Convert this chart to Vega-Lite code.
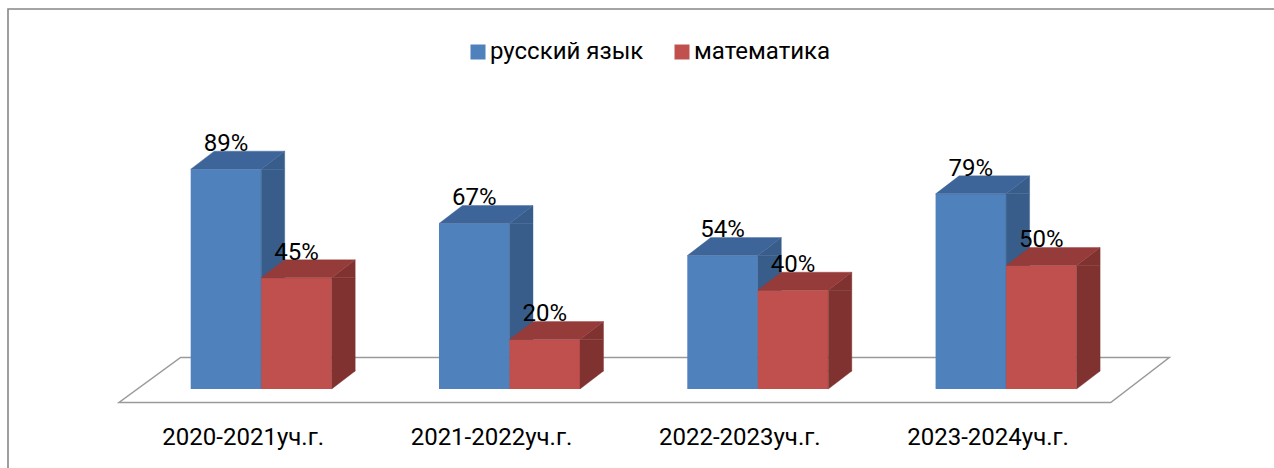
{
  "$schema": "https://vega.github.io/schema/vega-lite/v6.json",
  "width": 1269,
  "height": 462,
  "padding": {"left": 8, "top": 9, "right": -3, "bottom": -3},
  "autosize": {"type": "none"},
  "background": "white",
  "config": {
    "view": {"stroke": "#878787", "strokeWidth": 1.6},
    "font": "Roboto",
    "text": {"font": "Roboto"}
  },
  "data": {
    "values": [
      {"year": "2020-2021уч.г.", "subject": "русский язык", "value": 0.89},
      {"year": "2020-2021уч.г.", "subject": "математика", "value": 0.45},
      {"year": "2021-2022уч.г.", "subject": "русский язык", "value": 0.67},
      {"year": "2021-2022уч.г.", "subject": "математика", "value": 0.20},
      {"year": "2022-2023уч.г.", "subject": "русский язык", "value": 0.54},
      {"year": "2022-2023уч.г.", "subject": "математика", "value": 0.40},
      {"year": "2023-2024уч.г.", "subject": "русский язык", "value": 0.79},
      {"year": "2023-2024уч.г.", "subject": "математика", "value": 0.50}
    ]
  },
  "encoding": {
    "x": {
      "field": "year",
      "type": "nominal",
      "sort": null,
      "scale": {
        "type": "band",
        "domain": ["2020-2021уч.г.", "2021-2022уч.г.", "2022-2023уч.г.", "2023-2024уч.г."],
        "range": [58.55, 1192.75],
        "paddingInner": 0.4321,
        "paddingOuter": 0.5
      },
      "axis": {
        "title": null,
        "orient": "bottom",
        "offset": -26.7,
        "domain": false,
        "ticks": false,
        "grid": false,
        "labelPadding": 0,
        "labelBaseline": "alphabetic",
        "labelOffset": -18,
        "labelFont": "Roboto",
        "labelFontSize": 24,
        "labelColor": "#000000",
        "labelAngle": 0
      }
    },
    "y": {
      "field": "value",
      "type": "quantitative",
      "scale": {"domain": [0, 1], "range": [380, 133], "nice": false, "zero": true},
      "axis": null
    }
  },
  "layer": [
    {
      "transform": [{"filter": "datum.year === '2020-2021уч.г.' && datum.subject === 'русский язык'"}],
      "mark": {"type": "point", "shape": "M-142.2,13.5L849.5,13.5L908.1,-31.5L-80.6,-31.5Z", "size": 4, "filled": false, "opacity": 1, "stroke": "#9a9a9a", "strokeWidth": 1.5, "fill": null},
      "encoding": {"y": {"datum": 0}}
    },
    {
      "transform": [{"filter": "datum.subject === 'русский язык'"}],
      "layer": [
        {
          "mark": {"type": "bar", "width": 70.5, "xOffset": -35.25},
          "encoding": {
            "y2": {"datum": 0},
            "color": {
              "field": "subject",
              "type": "nominal",
              "scale": {"domain": ["русский язык", "математика"], "range": ["#4F81BD", "#C0504D"]},
              "legend": {
                "orient": "none",
                "legendX": 458,
                "legendY": 31,
                "direction": "horizontal",
                "title": null,
                "symbolType": "square",
                "symbolSize": 225,
                "symbolStrokeWidth": 0,
                "labelFont": "Roboto",
                "labelFontSize": 24,
                "labelColor": "#000000",
                "labelOffset": 0,
                "columnPadding": 26
              }
            }
          }
        },
        {
          "mark": {"type": "bar", "width": 23.5, "xOffset": 11.75, "y2Offset": -18, "color": "#385D8A", "stroke": "#385D8A", "strokeWidth": 0.4},
          "encoding": {"y2": {"datum": 0}}
        },
        {
          "mark": {"type": "point", "shape": "M0,0L23.5,-18L23.5,0Z", "size": 4, "filled": true, "opacity": 1, "color": "#385D8A", "stroke": "#385D8A", "strokeWidth": 0.4, "xOffset": 0},
          "encoding": {}
        },
        {
          "mark": {"type": "point", "shape": "M0,-18L0,0L23.5,-18Z", "size": 4, "filled": true, "opacity": 1, "color": "#385D8A", "stroke": "#385D8A", "strokeWidth": 0.4, "xOffset": 0},
          "encoding": {"y": {"datum": 0}}
        },
        {
          "mark": {"type": "point", "shape": "M0,0L70.5,0L94,-18L23.5,-18Z", "size": 4, "filled": true, "opacity": 1, "color": "#3E659A", "stroke": "#3E659A", "strokeWidth": 0.4, "xOffset": -70.5},
          "encoding": {}
        }
      ]
    },
    {
      "transform": [{"filter": "datum.subject === 'математика'"}],
      "layer": [
        {
          "mark": {"type": "bar", "width": 70.5, "xOffset": 35.25},
          "encoding": {
            "y2": {"datum": 0},
            "color": {
              "field": "subject",
              "type": "nominal",
              "scale": {"domain": ["русский язык", "математика"], "range": ["#4F81BD", "#C0504D"]},
              "legend": {
                "orient": "none",
                "legendX": 458,
                "legendY": 31,
                "direction": "horizontal",
                "title": null,
                "symbolType": "square",
                "symbolSize": 225,
                "symbolStrokeWidth": 0,
                "labelFont": "Roboto",
                "labelFontSize": 24,
                "labelColor": "#000000",
                "labelOffset": 0,
                "columnPadding": 26
              }
            }
          }
        },
        {
          "mark": {"type": "bar", "width": 23.5, "xOffset": 82.25, "y2Offset": -18, "color": "#7F3230", "stroke": "#7F3230", "strokeWidth": 0.4},
          "encoding": {"y2": {"datum": 0}}
        },
        {
          "mark": {"type": "point", "shape": "M0,0L23.5,-18L23.5,0Z", "size": 4, "filled": true, "opacity": 1, "color": "#7F3230", "stroke": "#7F3230", "strokeWidth": 0.4, "xOffset": 70.5},
          "encoding": {}
        },
        {
          "mark": {"type": "point", "shape": "M0,-18L0,0L23.5,-18Z", "size": 4, "filled": true, "opacity": 1, "color": "#7F3230", "stroke": "#7F3230", "strokeWidth": 0.4, "xOffset": 70.5},
          "encoding": {"y": {"datum": 0}}
        },
        {
          "mark": {"type": "point", "shape": "M0,0L70.5,0L94,-18L23.5,-18Z", "size": 4, "filled": true, "opacity": 1, "color": "#953B39", "stroke": "#953B39", "strokeWidth": 0.4, "xOffset": 0},
          "encoding": {}
        }
      ]
    },
    {
      "transform": [{"filter": "datum.subject === 'русский язык'"}],
      "mark": {"type": "text", "font": "Roboto", "fontSize": 24, "color": "#000000", "align": "center", "baseline": "alphabetic", "xOffset": -35.25, "yOffset": -18.3},
      "encoding": {"text": {"field": "value", "type": "quantitative", "format": ".0%"}}
    },
    {
      "transform": [{"filter": "datum.subject === 'математика'"}],
      "mark": {"type": "text", "font": "Roboto", "fontSize": 24, "color": "#000000", "align": "center", "baseline": "alphabetic", "xOffset": 35.25, "yOffset": -18.3},
      "encoding": {"text": {"field": "value", "type": "quantitative", "format": ".0%"}}
    }
  ]
}
